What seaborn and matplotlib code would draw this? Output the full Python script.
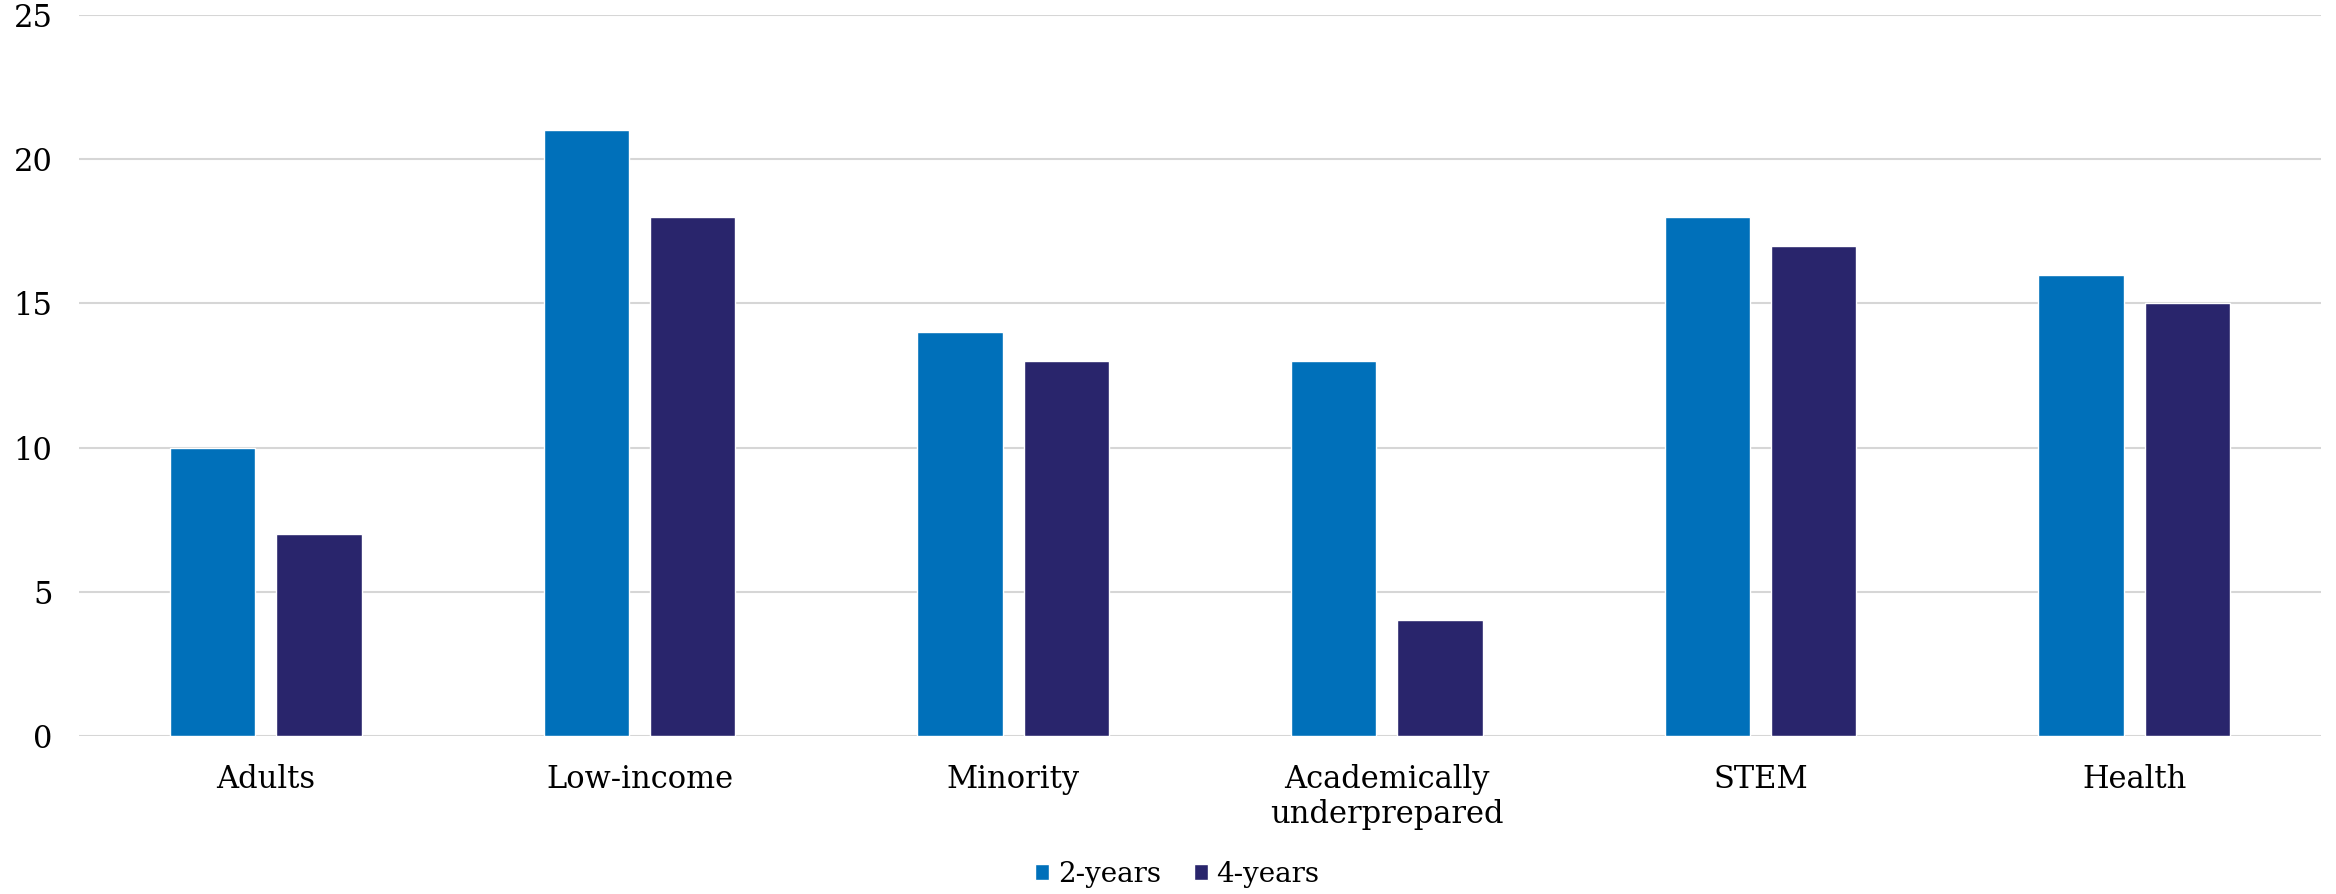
import pandas as pd
import matplotlib
matplotlib.use("Agg")
import matplotlib.pyplot as plt
import seaborn as sb

categories = ["Adults", "Low-income", "Minority", "Academically\nunderprepared", "STEM", "Health"]
two_years = [10, 21, 14, 13, 18, 16]
four_years = [7, 18, 13, 4, 17, 15]
series = ["2-years", "4-years"]
colors = ["#0070BA", "#29256C"]
y_ticks = [0, 5, 10, 15, 20, 25]

data = pd.DataFrame({
    "category": categories * 2,
    "value": two_years + four_years,
    "series": [series[0]] * len(categories) + [series[1]] * len(categories),
})

sb.set_style("white")
plt.rcParams["font.family"] = ["DejaVu Serif"]
plt.rcParams["text.color"] = "black"
plt.rcParams["xtick.color"] = "black"
plt.rcParams["ytick.color"] = "black"

fig = plt.figure(figsize=(23.36, 8.94), dpi=100)
ax = fig.add_axes([0.0338, 0.177, 0.9598, 0.806])

sb.barplot(data=data, x="category", y="value", hue="series", order=categories,
           hue_order=series, palette=colors, width=0.57, gap=0.2,
           saturation=1, ax=ax, legend=True)

ax.set_ylim(0, 25)
ax.set_xlim(-0.5, len(categories) - 0.5)
ax.set_yticks(y_ticks)
ax.yaxis.grid(True, color="#D6D6D6", linewidth=1.5)
ax.set_axisbelow(True)
for s in ax.spines.values():
    s.set_visible(False)
ax.set_xlabel("")
ax.set_ylabel("")
ax.tick_params(axis="y", length=0, pad=19, labelsize=22)
ax.tick_params(axis="x", length=0, pad=20, labelsize=22)

handles, labels = ax.get_legend_handles_labels()
ax.get_legend().remove()
fig.legend(handles, labels, loc="center", bbox_to_anchor=(0.504, 0.022),
           ncol=2, frameon=False, fontsize=20, handlelength=0.5, handleheight=0.5,
           handletextpad=0.3, columnspacing=1.2)

fig.savefig("out.png", dpi=100)
